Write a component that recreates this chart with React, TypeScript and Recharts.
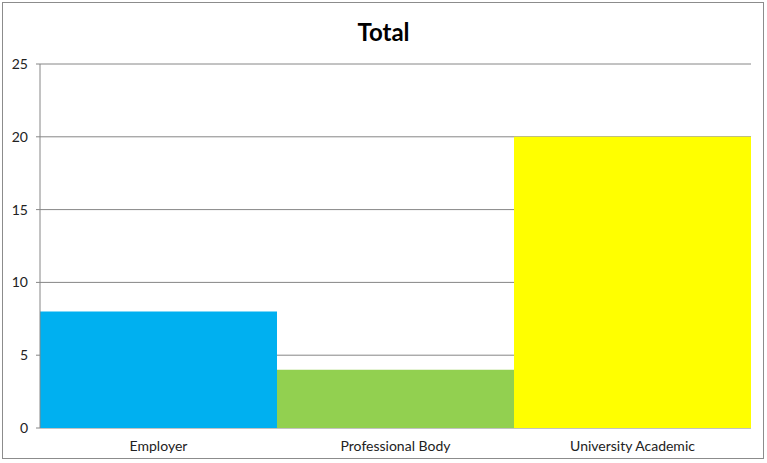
import React from "react";
import { BarChart, Bar, XAxis, YAxis, CartesianGrid, Cell } from "recharts";

const categories = ["Employer", "Professional Body", "University Academic"];
const totals = [8, 4, 20];
const colors = ["#00B0F0", "#92D050", "#FFFF00"];
const yTicks = [0, 5, 10, 15, 20, 25];
const boundaryTicks = [0, 1, 2, 3];

const data = categories.map((name, i) => ({ name, total: totals[i] }));

const AXIS = "#868686";
const FONT = "Lato, 'Open Sans', sans-serif";

export default function App() {
  return (
    <div style={{ position: "absolute", left: 0, top: 0, width: 767, height: 463, background: "#fff", fontFamily: FONT }}>
      <div
        style={{
          position: "absolute",
          left: 2,
          top: 2,
          width: 762,
          height: 457,
          border: "1px solid #8c8c8c",
          boxSizing: "border-box",
        }}
      />
      <div
        style={{
          position: "absolute",
          left: 0,
          top: 17,
          width: 767,
          textAlign: "center",
          fontWeight: "bold",
          fontSize: 24,
          lineHeight: "29px",
          color: "#000",
        }}
      >
        Total
      </div>
      <div style={{ position: "absolute", left: 0, top: 0 }}>
        <BarChart
          width={767}
          height={463}
          data={data}
          margin={{ top: 64, right: 16, bottom: 0, left: 0 }}
          barCategoryGap={0}
        >
          <CartesianGrid vertical={false} stroke={AXIS} strokeWidth={1} />
          <XAxis
            xAxisId="ticks"
            type="number"
            domain={[0, 3]}
            ticks={boundaryTicks}
            allowDataOverflow
            tick={false}
            height={0}
            axisLine={{ stroke: AXIS }}
            tickLine={{ stroke: AXIS }}
            tickSize={4}
          />
          <XAxis
            dataKey="name"
            height={35}
            axisLine={false}
            tickLine={false}
            tickMargin={7}
            tick={{ fill: "#222", fontSize: 14, fontFamily: FONT }}
          />
          <YAxis
            domain={[0, 25]}
            ticks={yTicks}
            width={40}
            axisLine={{ stroke: AXIS }}
            tickLine={{ stroke: AXIS }}
            tickSize={4}
            tickMargin={8}
            tick={{ fill: "#222", fontSize: 14, fontFamily: FONT }}
          />
          <Bar dataKey="total" isAnimationActive={false}>
            {data.map((d, i) => (
              <Cell key={d.name} fill={colors[i]} />
            ))}
          </Bar>
        </BarChart>
      </div>
    </div>
  );
}
